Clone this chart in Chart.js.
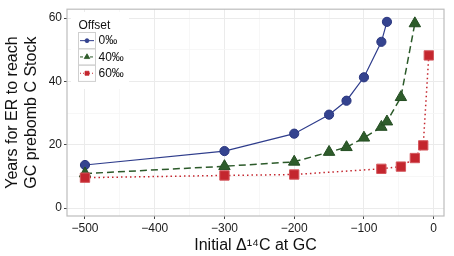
<!DOCTYPE html>
<html>
<head>
<meta charset="utf-8">
<script src="https://cdn.jsdelivr.net/npm/chart.js@4/dist/chart.umd.min.js"></script>
<style>
html,body{margin:0;padding:0;background:#fff;}
#wrap{width:454px;height:256px;position:relative;}
</style>
</head>
<body>
<div id="wrap"><canvas id="c" width="454" height="256"></canvas></div>
<script>
// ---- Data ----
const seriesNames = ['0‰', '40‰', '60‰'];
const x0 = [-500, -300, -200, -150, -125, -100, -75, -67];
const y0 = [13.6, 18.0, 23.5, 29.5, 33.9, 41.3, 52.5, 58.8];
const x40 = [-500, -300, -200, -150, -125, -100, -75, -67, -47, -27];
const y40 = [10.9, 13.2, 14.6, 17.7, 19.2, 22.2, 25.6, 27.3, 35.0, 58.3];
const x60 = [-500, -300, -200, -75, -47, -27, -15, -7];
const y60 = [9.6, 10.3, 10.6, 12.4, 13.1, 15.8, 19.8, 48.2];
const xTickLabels = [-500, -400, -300, -200, -100, 0];
const yTickLabels = [0, 20, 40, 60];
const xTitle = 'Initial Δ\u00B9\u2074C at GC';
const yTitle = ['Years for ER to reach', 'GC prebomb C Stock'];
const legendTitle = 'Offset';

const FONT = "'Liberation Sans', Arial, Helvetica, sans-serif";
const colors = ['#2f3d8c', '#2c5a2a', '#c4262e'];
const pts = (xs, ys) => xs.map((x, i) => ({x: x, y: ys[i]}));

const isMajorX = v => xTickLabels.includes(v);
const isMajorY = v => yTickLabels.includes(v);
const fmt = v => v < 0 ? '\u2212' + Math.abs(v) : String(v);

const styles = [
  {pointStyle: 'circle', radius: 4.6, dash: [], width: 1.2, border: '#2a367f', fill: '#34438f'},
  {pointStyle: 'triangle', radius: 6.6, dash: [7, 4], width: 1.5, border: '#244d22', fill: '#2e5c2b'},
  {pointStyle: 'rect', radius: 6.6, dash: [1.5, 3], width: 1.5, border: '#d4575d', fill: '#c4262e'}
];

const datasets = [pts(x0, y0), pts(x40, y40), pts(x60, y60)].map((d, i) => ({
  label: seriesNames[i],
  data: d,
  borderColor: colors[i],
  backgroundColor: styles[i].fill,
  pointBackgroundColor: styles[i].fill,
  pointBorderColor: styles[i].border,
  pointBorderWidth: 1,
  pointStyle: styles[i].pointStyle,
  pointRadius: styles[i].radius,
  pointHoverRadius: styles[i].radius,
  borderWidth: styles[i].width,
  borderDash: styles[i].dash,
  tension: 0,
  fill: false,
  order: 3 - i
}));

function drawMarker(ctx, style, x, y, r, fill, stroke) {
  ctx.save();
  ctx.setLineDash([]);
  ctx.fillStyle = fill;
  ctx.strokeStyle = stroke;
  ctx.lineWidth = 0.8;
  ctx.beginPath();
  if (style === 'circle') {
    ctx.arc(x, y, r, 0, Math.PI * 2);
  } else if (style === 'triangle') {
    ctx.moveTo(x, y - r);
    ctx.lineTo(x + r * 0.866, y + r * 0.5);
    ctx.lineTo(x - r * 0.866, y + r * 0.5);
    ctx.closePath();
  } else {
    ctx.rect(x - r, y - r, 2 * r, 2 * r);
  }
  ctx.fill();
  ctx.stroke();
  ctx.restore();
}

const decor = {
  id: 'decor',
  afterDatasetsDraw(chart) {
    const ctx = chart.ctx;
    const a = chart.chartArea;
    ctx.save();
    // legend
    const lx = 71, ly = 12;
    ctx.fillStyle = '#ffffff';
    ctx.fillRect(lx, ly, 58, 77);
    ctx.fillStyle = '#111';
    ctx.font = '12px ' + FONT;
    ctx.textBaseline = 'middle';
    ctx.textAlign = 'left';
    ctx.fillText(legendTitle, 78.5, 25.5);
    const markR = [2, 3.2, 2];
    for (let i = 0; i < 3; i++) {
      const ky = 32.5 + i * 16.3;
      ctx.strokeStyle = '#cfcfcf';
      ctx.lineWidth = 1;
      ctx.setLineDash([]);
      ctx.strokeRect(78.5, ky, 17, 16.3);
      const cy = ky + 8.15;
      ctx.strokeStyle = colors[i];
      ctx.lineWidth = 1;
      ctx.setLineDash(i === 0 ? [] : (i === 1 ? [3, 2] : [1, 2]));
      ctx.beginPath();
      ctx.moveTo(80, cy);
      ctx.lineTo(94, cy);
      ctx.stroke();
      drawMarker(ctx, styles[i].pointStyle, 87, cy, markR[i], styles[i].fill, styles[i].fill);
      ctx.fillStyle = '#111';
      ctx.fillText(seriesNames[i], 98.5, cy + 0.5);
    }
    // panel border
    ctx.setLineDash([]);
    ctx.strokeStyle = '#bdbdbd';
    ctx.lineWidth = 1.2;
    ctx.strokeRect(a.left, a.top, a.right - a.left, a.bottom - a.top);
    ctx.restore();
  },
  afterDraw(chart) {
    const ctx = chart.ctx;
    const a = chart.chartArea;
    ctx.save();
    ctx.fillStyle = '#111';
    ctx.font = '16px ' + FONT;
    ctx.textAlign = 'center';
    ctx.textBaseline = 'middle';
    ctx.fillText(xTitle, (a.left + a.right) / 2, 246);
    ctx.translate(0, (a.top + a.bottom) / 2);
    ctx.rotate(-Math.PI / 2);
    ctx.fillText(yTitle[0], 0, 13);
    ctx.fillText(yTitle[1], 0, 32);
    ctx.restore();
  }
};

new Chart(document.getElementById('c'), {
  type: 'line',
  data: {datasets: datasets},
  options: {
    responsive: false,
    animation: false,
    devicePixelRatio: 1,
    layout: {padding: {left: 0, right: 10, top: 7, bottom: 0}},
    plugins: {legend: {display: false}, tooltip: {enabled: false}},
    scales: {
      x: {
        type: 'linear',
        min: -525.8,
        max: 14.8,
        afterFit: s => { s.height = 40; },
        border: {display: false},
        grid: {
          color: c => isMajorX(c.tick.value) ? '#ebebeb' : '#f5f5f5',
          lineWidth: c => isMajorX(c.tick.value) ? 1 : 0.8,
          tickLength: 3,
          tickColor: c => isMajorX(c.tick.value) ? '#444' : 'rgba(0,0,0,0)',
          tickWidth: 1
        },
        ticks: {
          stepSize: 50,
          includeBounds: false,
          autoSkip: false,
          maxRotation: 0,
          padding: 2,
          color: '#1a1a1a',
          font: {family: FONT, size: 12},
          callback: v => isMajorX(v) ? fmt(v) : ''
        }
      },
      y: {
        type: 'linear',
        min: -2.5,
        max: 62.8,
        afterFit: s => { s.width = 67; },
        border: {display: false},
        grid: {
          color: c => isMajorY(c.tick.value) ? '#ebebeb' : '#f5f5f5',
          lineWidth: c => isMajorY(c.tick.value) ? 1 : 0.8,
          tickLength: 3,
          tickColor: c => isMajorY(c.tick.value) ? '#444' : 'rgba(0,0,0,0)',
          tickWidth: 1
        },
        ticks: {
          stepSize: 10,
          includeBounds: false,
          autoSkip: false,
          padding: 2,
          color: '#1a1a1a',
          font: {family: FONT, size: 12},
          callback: v => isMajorY(v) ? fmt(v) : ''
        }
      }
    }
  },
  plugins: [decor]
});
</script>
</body>
</html>
